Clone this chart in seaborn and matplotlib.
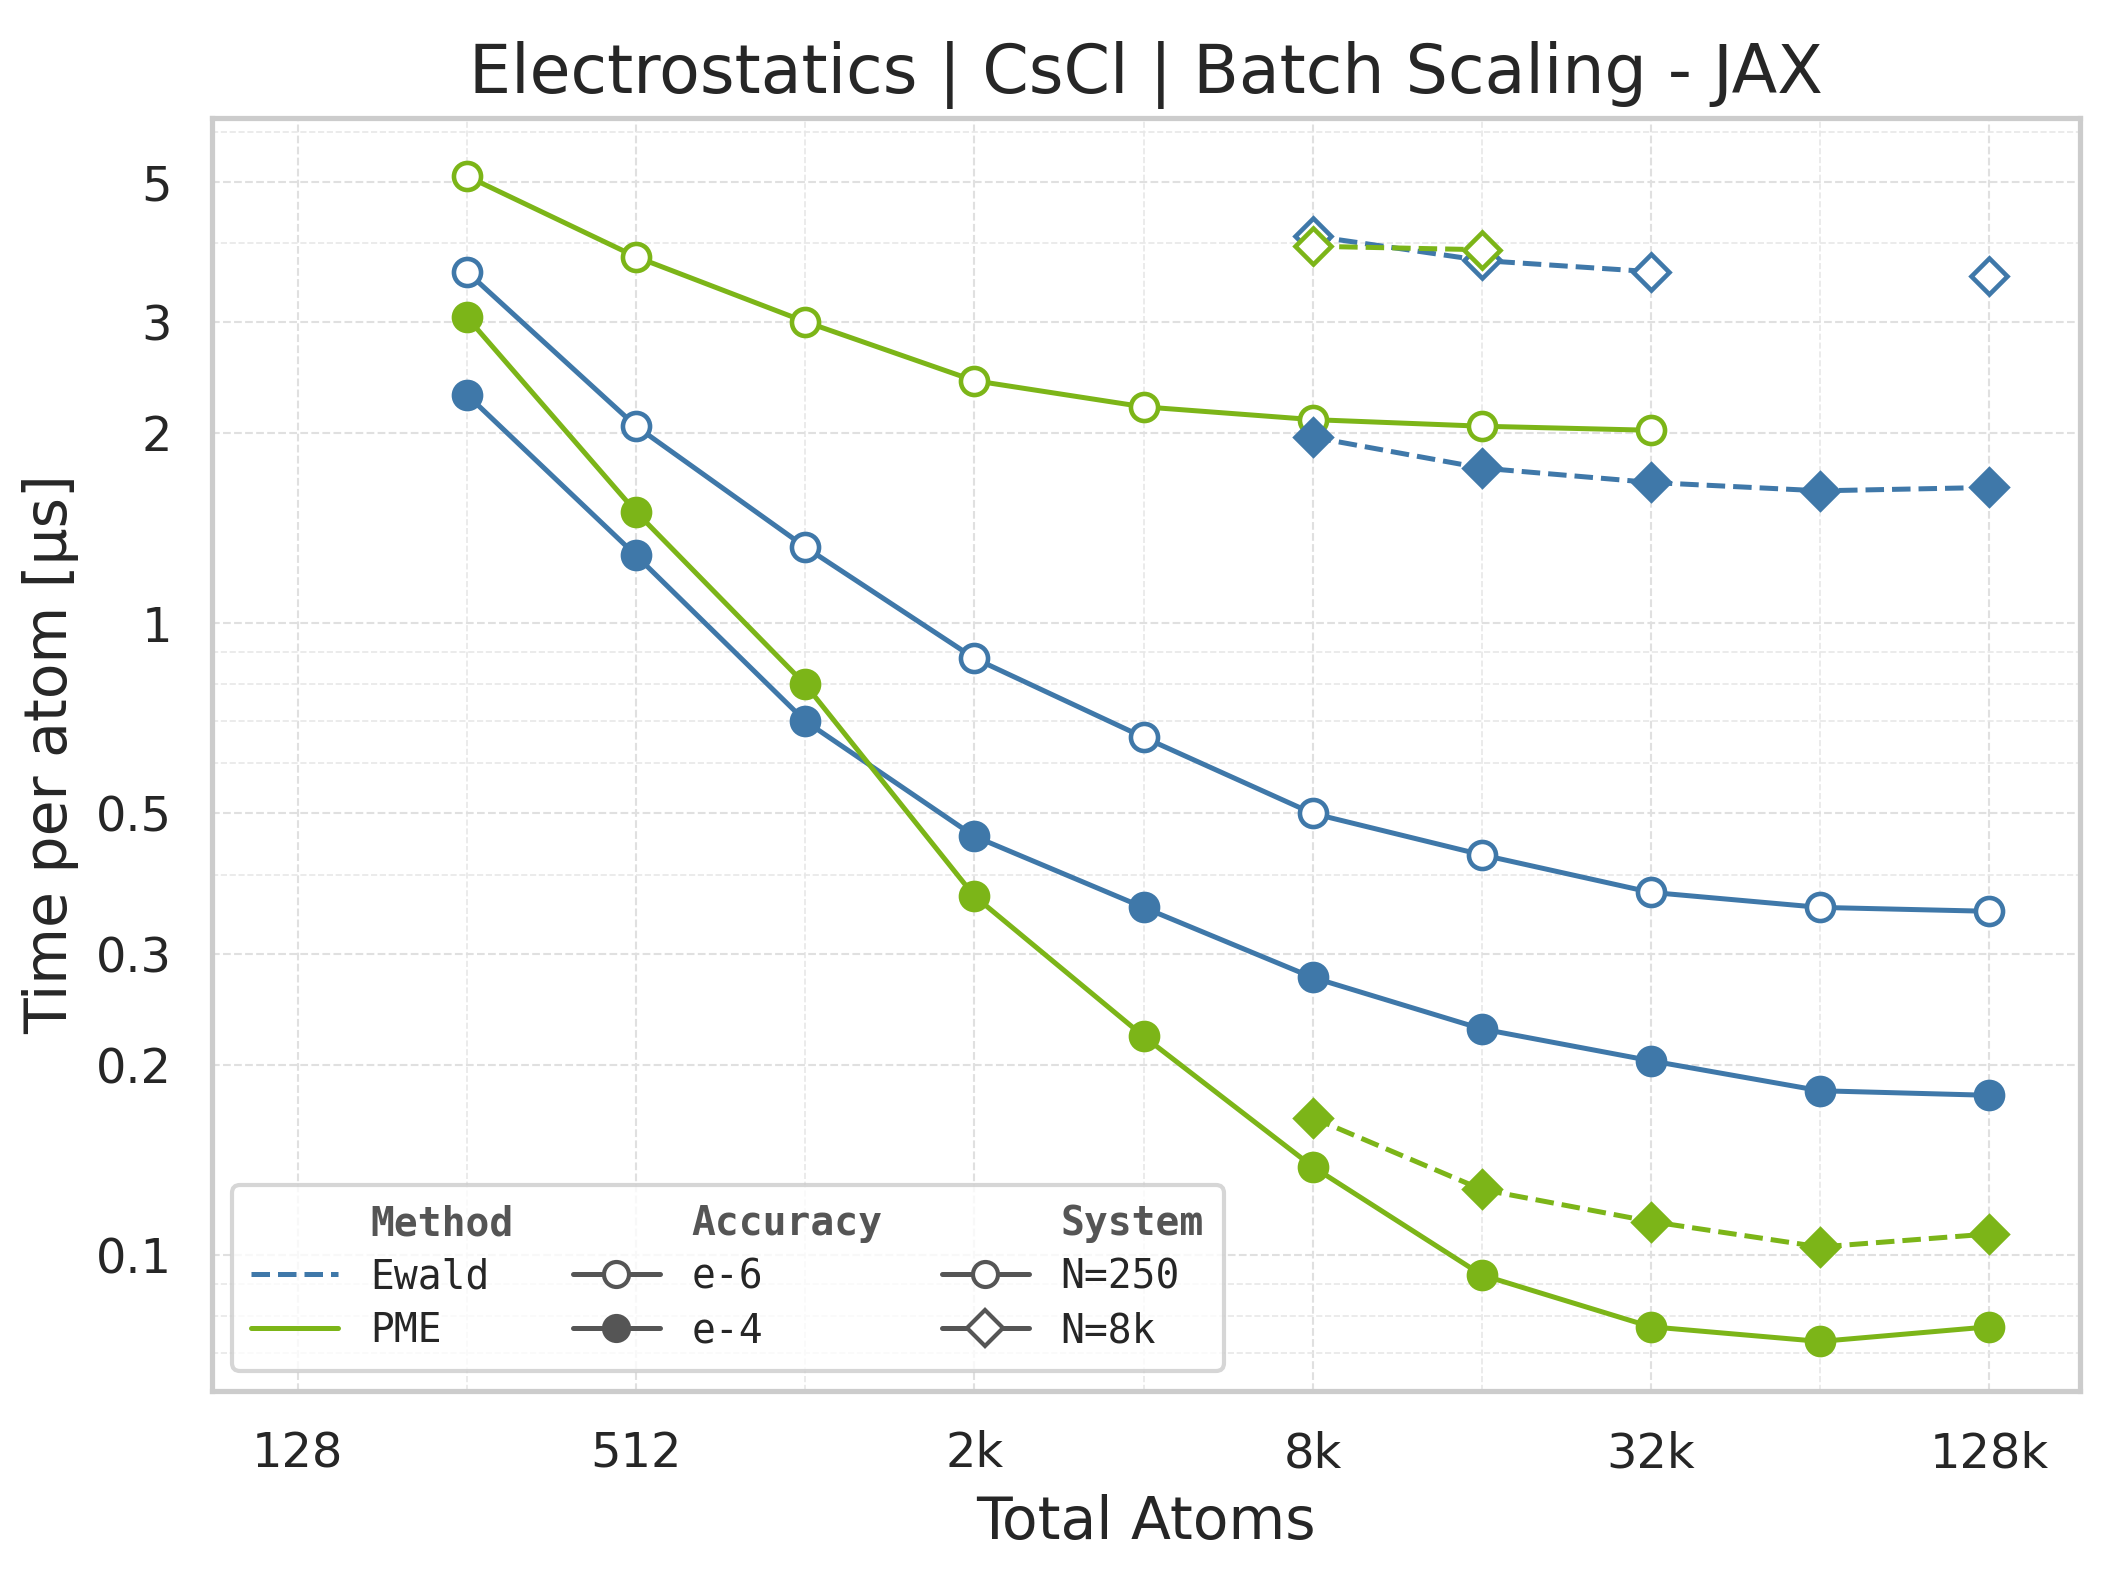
import numpy as np
import pandas as pd
import seaborn as sns
import matplotlib.pyplot as plt
from matplotlib.lines import Line2D
from matplotlib.ticker import FixedLocator, NullFormatter

x_all = [256, 512, 1024, 2048, 4096, 8192, 16384, 32768, 65536, 131072]
x_8k = [8192, 16384, 32768, 65536, 131072]

ewald_e6_250 = [3.6, 2.05, 1.32, 0.88, 0.66, 0.5, 0.43, 0.375, 0.355, 0.35]
ewald_e4_250 = [2.3, 1.28, 0.7, 0.46, 0.355, 0.275, 0.228, 0.203, 0.182, 0.179]
pme_e6_250 = [5.1, 3.8, 3.0, 2.42, 2.2, 2.1, 2.05, 2.02]
pme_e4_250 = [3.05, 1.5, 0.8, 0.37, 0.222, 0.138, 0.093, 0.077, 0.073, 0.077]
ewald_e6_8k_x = [8192, 16384, 32768]
ewald_e6_8k = [4.1, 3.75, 3.6]
ewald_e6_8k_x2 = [131072]
ewald_e6_8k2 = [3.55]
ewald_e4_8k = [1.97, 1.76, 1.67, 1.62, 1.64]
pme_e6_8k_x = [8192, 16384]
pme_e6_8k = [3.95, 3.9]
pme_e4_8k = [0.165, 0.127, 0.113, 0.103, 0.108]

xticks = [128, 512, 2048, 8192, 32768, 131072]
xticklabels = ["128", "512", "2k", "8k", "32k", "128k"]
yticks = [0.1, 0.2, 0.3, 0.5, 1, 2, 3, 5]
yticklabels = ["0.1", "0.2", "0.3", "0.5", "1", "2", "3", "5"]

BLUE = "#3f78a9"
GREEN = "#7cb518"

sns.set_theme(style="whitegrid")
fig, ax = plt.subplots(figsize=(7.06, 5.25), dpi=300)

series = [
    (x_all, ewald_e6_250, BLUE, "-", "o", False),
    (x_all, ewald_e4_250, BLUE, "-", "o", True),
    (x_all[:len(pme_e6_250)], pme_e6_250, GREEN, "-", "o", False),
    (x_all, pme_e4_250, GREEN, "-", "o", True),
    (ewald_e6_8k_x, ewald_e6_8k, BLUE, "--", "D", False),
    (ewald_e6_8k_x2, ewald_e6_8k2, BLUE, "--", "D", False),
    (x_8k, ewald_e4_8k, BLUE, "--", "D", True),
    (pme_e6_8k_x, pme_e6_8k, GREEN, "--", "D", False),
    (x_8k, pme_e4_8k, GREEN, "--", "D", True),
]
for xs, ys, c, ls, m, filled in series:
    df = pd.DataFrame({"x": xs, "y": ys})
    sns.lineplot(data=df, x="x", y="y", ax=ax, color=c, linestyle=ls, lw=1.2,
                 marker=m, markersize=6.5 if m == "o" else 6,
                 markerfacecolor=c if filled else "white", markeredgecolor=c,
                 markeredgewidth=1.1)

ax.set_xscale("log", base=2)
ax.set_yscale("log")
ax.set_xlim(90, 190000)
ax.set_ylim(0.061, 6.3)
ax.set_xticks(xticks)
ax.set_xticklabels(xticklabels)
ax.xaxis.set_minor_locator(FixedLocator(x_all))
ax.xaxis.set_minor_formatter(NullFormatter())
ax.set_yticks(yticks)
ax.set_yticklabels(yticklabels)
ax.yaxis.set_minor_formatter(NullFormatter())
ax.grid(True, which="major", ls="--", lw=0.5, color="#e0e0e0")
ax.grid(True, which="minor", ls="--", lw=0.4, color="#e8e8e8")
ax.tick_params(labelsize=11.5)
for s in ax.spines.values():
    s.set_color("#cccccc")
ax.set_xlabel("Total Atoms", fontsize=14)
ax.set_ylabel("Time per atom [µs]", fontsize=14)
ax.set_title("Electrostatics | CsCl | Batch Scaling - JAX", fontsize=16)

G = "#555555"
blank = Line2D([], [], color="none")
handles = [
    blank, Line2D([], [], color=BLUE, ls="--", lw=1.2), Line2D([], [], color=GREEN, ls="-", lw=1.2),
    blank, Line2D([], [], color=G, marker="o", mfc="white", mec=G, lw=1.2),
    Line2D([], [], color=G, marker="o", mfc=G, mec=G, lw=1.2),
    blank, Line2D([], [], color=G, marker="o", mfc="white", mec=G, lw=1.2),
    Line2D([], [], color=G, marker="D", mfc="white", mec=G, lw=1.2),
]
labels = ["Method", "Ewald", "PME", "Accuracy", "e-6", "e-4", "System", "N=250", "N=8k"]
leg = ax.legend(handles, labels, ncol=3, loc="lower left", frameon=True,
                prop={"family": "DejaVu Sans Mono", "size": 9.5}, handlelength=2.2,
                columnspacing=1.5, borderpad=0.5, labelspacing=0.35)
for t in leg.get_texts():
    if t.get_text() in ("Method", "Accuracy", "System"):
        t.set_fontweight("bold")
        t.set_color(G)
fig.subplots_adjust(left=0.100, right=0.982, top=0.925, bottom=0.117)
fig.savefig("out.png", dpi=300)
